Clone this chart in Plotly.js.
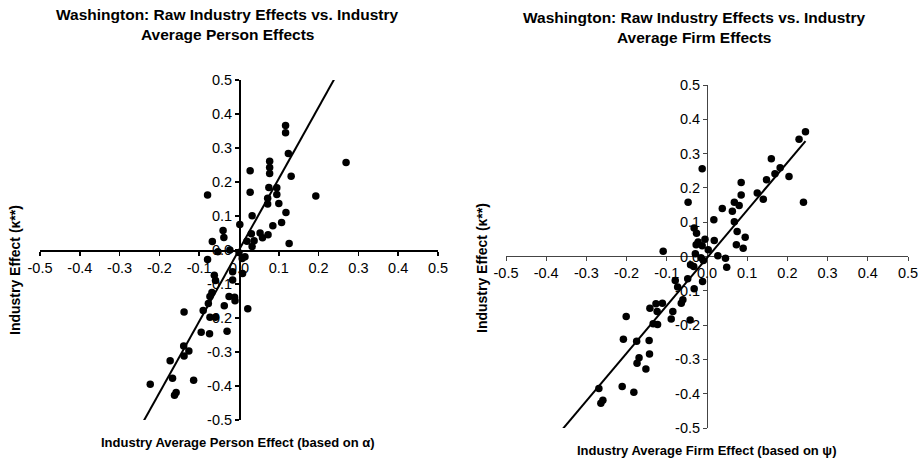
<!DOCTYPE html>
<html>
<head>
<meta charset="utf-8">
<script src="https://cdn.plot.ly/plotly-3.0.1.min.js"></script>
<style>html,body{margin:0;padding:0;background:#fff}#chart{width:920px;height:461px}</style>
</head>
<body>
<div id="chart"></div>
<script>
// Left panel: Industry average person effect (alpha) vs raw industry effect
const personX = [0.117,0.117,0.124,0.269,0.077,0.077,0.077,0.131,0.028,0.028,-0.079,0.075,0.095,0.095,0.100,0.072,0.072,0.193,0.033,0.118,0.107,0.085,0.002,-0.040,-0.038,-0.067,-0.053,-0.023,0.073,0.053,0.059,0.031,0.020,0.038,0.033,0.126,-0.079,0.000,0.015,0.008,-0.062,-0.059,-0.016,0.009,-0.016,-0.068,-0.073,-0.025,-0.011,-0.010,-0.077,-0.037,-0.138,-0.090,0.022,-0.073,-0.059,-0.095,-0.074,-0.030,-0.139,-0.126,-0.138,-0.173,-0.167,-0.114,-0.223,-0.158,-0.162];
const personY = [0.366,0.345,0.284,0.257,0.261,0.243,0.225,0.217,0.233,0.170,0.162,0.184,0.183,0.163,0.137,0.152,0.135,0.159,0.101,0.110,0.081,0.071,0.075,0.057,0.037,0.025,-0.005,0.000,0.045,0.050,0.036,0.048,0.026,0.027,0.010,0.019,-0.028,-0.008,-0.020,-0.025,-0.074,-0.090,-0.064,-0.069,-0.088,-0.125,-0.137,-0.137,-0.139,-0.149,-0.157,-0.164,-0.182,-0.178,-0.173,-0.198,-0.198,-0.242,-0.246,-0.239,-0.282,-0.297,-0.312,-0.326,-0.377,-0.383,-0.395,-0.419,-0.427];
const personFit = {slope: 2.1, intercept: 0.0, xmin: -0.243, xmax: 0.244};

// Right panel: Industry average firm effect (psi) vs raw industry effect
const firmX = [0.245,0.229,0.160,0.182,0.169,0.204,0.148,-0.012,0.085,0.085,0.125,0.140,0.240,-0.047,0.068,0.080,0.038,0.063,0.017,0.068,0.075,0.095,-0.032,-0.026,-0.005,0.018,-0.022,-0.027,-0.012,0.073,0.090,0.003,-0.109,-0.029,0.027,0.046,-0.015,0.049,-0.009,-0.041,-0.033,-0.011,-0.048,-0.079,-0.073,-0.032,-0.060,-0.064,-0.127,-0.111,-0.142,-0.124,-0.085,-0.201,-0.089,-0.042,-0.134,-0.123,-0.208,-0.175,-0.144,-0.143,-0.169,-0.174,-0.152,-0.269,-0.211,-0.182,-0.259,-0.264];
const firmY = [0.364,0.342,0.285,0.259,0.241,0.233,0.224,0.256,0.216,0.179,0.185,0.167,0.158,0.158,0.158,0.149,0.140,0.132,0.107,0.101,0.073,0.056,0.083,0.068,0.050,0.047,0.042,0.034,0.031,0.034,0.024,0.020,0.015,0.008,0.002,-0.005,-0.004,-0.031,-0.012,-0.024,-0.029,-0.073,-0.065,-0.070,-0.089,-0.094,-0.126,-0.136,-0.138,-0.136,-0.151,-0.160,-0.160,-0.175,-0.182,-0.185,-0.196,-0.198,-0.241,-0.247,-0.245,-0.284,-0.295,-0.311,-0.328,-0.385,-0.379,-0.396,-0.419,-0.428];
const firmFit = {slope: 1.39, intercept: -0.004, xmin: -0.371, xmax: 0.245};

const tickVals = [-0.5,-0.4,-0.3,-0.2,-0.1,0.0,0.1,0.2,0.3,0.4,0.5];
const tickText = ['-0.5','-0.4','-0.3','-0.2','-0.1','0.0','0.1','0.2','0.3','0.4','0.5'];

const titles = {
  left: ['Washington: Raw Industry Effects vs. Industry', 'Average Person Effects'],
  right: ['Washington: Raw Industry Effects vs. Industry', 'Average Firm Effects']
};
const xTitles = ['Industry Average Person Effect (based on α)', 'Industry Average Firm Effect (based on ψ)'];
const yTitle = 'Industry Effect (κ**)';

function fitLine(f) {
  return {x: [f.xmin, f.xmax], y: [f.intercept + f.slope * f.xmin, f.intercept + f.slope * f.xmax]};
}
const lf = fitLine(personFit), rf = fitLine(firmFit);

const FONT = 'Liberation Sans, Arial, sans-serif';
const mk = {size: 7.5, color: '#000'};

const traces = [
  {x: personX, y: personY, type: 'scatter', mode: 'markers', marker: mk, xaxis: 'x', yaxis: 'y', cliponaxis: false},
  {x: lf.x, y: lf.y, type: 'scatter', mode: 'lines', line: {color: '#000', width: 2}, xaxis: 'x', yaxis: 'y', cliponaxis: false},
  {x: firmX, y: firmY, type: 'scatter', mode: 'markers', marker: mk, xaxis: 'x2', yaxis: 'y2', cliponaxis: false},
  {x: rf.x, y: rf.y, type: 'scatter', mode: 'lines', line: {color: '#000', width: 2}, xaxis: 'x2', yaxis: 'y2', cliponaxis: false}
];

function axis(domain, pos, lw, lc) {
  return {
    domain: domain, range: [-0.5, 0.5], anchor: 'free', position: pos,
    tickvals: tickVals, ticktext: tickText, ticks: 'outside', ticklen: 4, tickwidth: lw, tickcolor: lc,
    showline: true, linecolor: lc, linewidth: lw, showgrid: false, zeroline: false,
    tickfont: {family: FONT, size: 14.5, color: '#000'}, layer: 'below traces', fixedrange: true
  };
}

const layout = {
  width: 920, height: 461,
  margin: {l: 0, r: 0, t: 0, b: 0},
  paper_bgcolor: '#fff', plot_bgcolor: 'rgba(0,0,0,0)',
  showlegend: false,
  font: {family: FONT, color: '#000'},
  xaxis: axis([40/920, 438/920], 1 - 250/461, 1.5, '#000'),
  yaxis: axis([1 - 420/461, 1 - 80/461], 239/920, 1.5, '#000'),
  xaxis2: axis([506/920, 908/920], 1 - 256/461, 1, '#444'),
  yaxis2: axis([1 - 428/461, 1 - 85/461], 707/920, 1, '#444'),
  annotations: [
    {text: '<b>' + titles.left[0] + '</b>', x: 227/920, y: 1 - 14/461},
    {text: '<b>' + titles.left[1] + '</b>', x: 227/920, y: 1 - 34/461},
    {text: '<b>' + titles.right[0] + '</b>', x: 694/920, y: 1 - 18/461},
    {text: '<b>' + titles.right[1] + '</b>', x: 694/920, y: 1 - 38/461},
    {text: '<b>' + xTitles[0] + '</b>', x: 238/920, y: 1 - 442/461, font: {size: 13}},
    {text: '<b>' + xTitles[1] + '</b>', x: 707/920, y: 1 - 450/461, font: {size: 13}},
    {text: '<b>' + yTitle + '</b>', x: 15/920, y: 1 - 270/461, textangle: -90, font: {size: 14}},
    {text: '<b>' + yTitle + '</b>', x: 482/920, y: 1 - 268/461, textangle: -90, font: {size: 14}}
  ].map(a => Object.assign({xref: 'paper', yref: 'paper', showarrow: false, xanchor: 'center', yanchor: 'middle'}, a, {font: Object.assign({family: FONT, color: '#000', size: 15.5}, a.font || {})}))
};

Plotly.newPlot('chart', traces, layout, {staticPlot: true, displayModeBar: false});
</script>
</body>
</html>
